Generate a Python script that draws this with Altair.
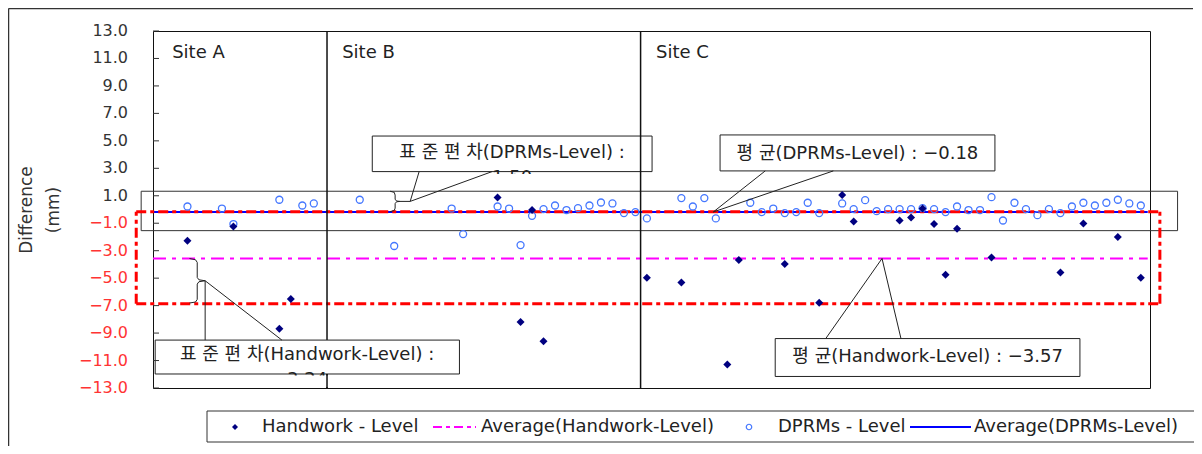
import altair as alt
import pandas as pd

FONT = "DejaVu Sans, Noto Sans CJK KR"
INK = "#222222"

# ---------------- data ----------------
# x = measurement index along the route, y = difference (mm)
dprms_idx = [3, 6, 7, 11, 13, 14,
             18, 21, 26, 27, 30, 31, 32, 33, 34, 35, 36, 37, 38, 39, 40, 41, 42,
             43, 46, 47, 48, 49, 52, 53, 54, 55, 56, 57, 58, 60, 61, 62, 63, 64, 65, 66, 67, 68,
             69, 70, 71, 72, 73, 74, 75, 76, 77, 78, 79, 80, 81, 82, 83, 84, 85, 86]
dprms_val = [0.22, 0.07, -1.06, 0.71, 0.29, 0.44,
             0.71, -2.66, 0.07, -1.79, 0.22, 0.07, -2.59, -0.46, 0.03, 0.29, -0.04, 0.10, 0.29,
             0.51, 0.44, -0.26, -0.19,
             -0.65, 0.83, 0.22, 0.83, -0.65, 0.49, -0.19, 0.07, -0.26, -0.19, 0.49, -0.26, 0.44,
             0.03, 0.68, -0.12, 0.03, 0.03, 0.03, 0.10, 0.03, -0.19, 0.22, -0.04, -0.04, 0.90,
             -0.80, 0.49, 0.03, -0.41, 0.03, -0.26, 0.22, 0.49, 0.29, 0.49, 0.71, 0.44, 0.29]
hand_idx = [3, 7, 11, 12, 30, 32, 33, 34, 43, 46, 50, 51, 55, 58, 60, 61, 65, 66, 67, 68,
            69, 70, 73, 79, 81, 84, 86]
hand_val = [-2.28, -1.24, -8.68, -6.52, 0.87, -8.19, -0.04, -9.60, -4.97, -5.31, -11.29,
            -3.68, -3.97, -6.79, 1.05, -0.87, -0.80, -0.58, 0.07, -1.06, -4.75, -1.40, -3.49,
            -4.58, -1.02, -2.01, -4.97]

hand_mean = -3.57
dprms_mean = -0.18
hand_sd_text = "3.24"
dprms_sd_text = "1.50"

site_names = ["Site A", "Site B", "Site C"]
site_label_x = [1.67, 16.47, 43.79]
site_label_y = [11.4, 11.4, 11.4]
site_div_x = [15.15, 42.45]

y_ticks = list(range(13, -14, -2))
y_tick_labels = ["13.0", "11.0", "9.0", "7.0", "5.0", "3.0", "1.0",
                 "\u22121.0", "\u22123.0", "\u22125.0", "\u22127.0", "\u22129.0",
                 "\u221211.0", "\u221213.0"]
y_title_lines = ["Difference", "(mm)"]

# band and red range box
band_x = [-1.03, 89.2]
band_y = [-1.54, 1.33]
red_x = [-1.46, 87.66]
red_y = [-6.86, -0.17]
mean_line_x = [0, 86.6]

# ---------------- helpers ----------------
xs = alt.Scale(domain=[0, 86.8], nice=False, zero=False)
ys = alt.Scale(domain=[-13, 13], nice=False, zero=False)


def X(f):
    return alt.X(f, type="quantitative", scale=xs, axis=None)


def Y(f):
    return alt.Y(f, type="quantitative", scale=ys, axis=None)


# ---------------- layers ----------------
d_points = pd.DataFrame({"x": dprms_idx, "y": dprms_val})
h_points = pd.DataFrame({"x": hand_idx, "y": hand_val})

band = alt.Chart(pd.DataFrame({"x0": [band_x[0]], "x1": [band_x[1]],
                               "y0": [band_y[0]], "y1": [band_y[1]]})).mark_rect(
    fillOpacity=0, stroke="#333333", strokeWidth=1).encode(
    x=X("x0"), x2=alt.X2("x1"), y=Y("y0"), y2=alt.Y2("y1"))

blue_line = alt.Chart(pd.DataFrame({"x0": [mean_line_x[0]], "x1": [mean_line_x[1]],
                                    "y": [dprms_mean]})).mark_rule(
    color="#0000ff", strokeWidth=2).encode(x=X("x0"), x2=alt.X2("x1"), y=Y("y"))

mag_line = alt.Chart(pd.DataFrame({"x0": [mean_line_x[0]], "x1": [mean_line_x[1]],
                                   "y": [hand_mean]})).mark_rule(
    color="#ff00ff", strokeWidth=2, strokeDash=[13, 6, 4, 6]).encode(
    x=X("x0"), x2=alt.X2("x1"), y=Y("y"))

red_h = alt.Chart(pd.DataFrame({"x0": [red_x[0]] * 2, "x1": [red_x[1]] * 2,
                                "y": red_y})).mark_rule(
    color="#ff0000", strokeWidth=3, strokeDash=[10, 4, 4, 4]).encode(
    x=X("x0"), x2=alt.X2("x1"), y=Y("y"))

red_v = alt.Chart(pd.DataFrame({"x": red_x, "y0": [red_y[0]] * 2,
                                "y1": [red_y[1]] * 2})).mark_rule(
    color="#ff0000", strokeWidth=3, strokeDash=[10, 4, 4, 4]).encode(
    x=X("x"), y=Y("y0"), y2=alt.Y2("y1"))

circles = alt.Chart(d_points).mark_point(
    shape="circle", filled=False, stroke="#4477ff", strokeWidth=1.3, size=49, opacity=1).encode(
    x=X("x"), y=Y("y"))

diamonds = alt.Chart(h_points).mark_point(
    shape="diamond", filled=True, color="#000080", size=64, opacity=1).encode(
    x=X("x"), y=Y("y"))

div_ab = alt.Chart(pd.DataFrame({"x": [site_div_x[0]], "y0": [-13], "y1": [13]})).mark_rule(
    color="#111111", strokeWidth=1.5).encode(x=X("x"), y=Y("y0"), y2=alt.Y2("y1"))

site_text = alt.Chart(pd.DataFrame({"x": site_label_x, "y": site_label_y,
                                    "t": site_names})).mark_text(
    font=FONT, fontSize=18, color=INK, align="left", baseline="middle").encode(
    x=X("x"), y=Y("y"), text="t:N")

# callout boxes (data units)
boxes = pd.DataFrame({
    "x0": [19.09, 49.37, 0.19, 54.17],
    "x1": [43.45, 73.30, 26.68, 80.70],
    "y0": [2.76, 2.81, -11.98, -12.16],
    "y1": [5.35, 5.43, -9.51, -9.40],
})
box_layer = alt.Chart(boxes).mark_rect(
    fill="white", stroke=INK, strokeWidth=1).encode(
    x=X("x0"), x2=alt.X2("x1"), y=Y("y0"), y2=alt.Y2("y1"))

labels = pd.DataFrame({
    "x": [31.26, 61.33, 13.42, 67.44],
    "y": [4.12, 4.05, -10.60, -10.75],
    "t": ["표 준 편 차(DPRMs-Level) :",
          "평 균(DPRMs-Level) : \u22120.18",
          "표 준 편 차(Handwork-Level) :",
          "평 균(Handwork-Level) : \u22123.57"],
})
label_layer = alt.Chart(labels).mark_text(
    font=FONT, fontSize=18, color=INK, align="center", baseline="middle").encode(
    x=X("x"), y=Y("y"), text="t:N")

# second lines of the two SD boxes, mostly cut off by the box edge
cut_text = alt.Chart(pd.DataFrame({"x": [31.26, 13.42], "y": [2.95, -11.75],
                                   "t": [dprms_sd_text, hand_sd_text]})).mark_text(
    font=FONT, fontSize=18, color=INK, align="center", baseline="top").encode(
    x=X("x"), y=Y("y"), text="t:N")

covers = alt.Chart(pd.DataFrame({"x0": [29.0, 11.0], "x1": [33.8, 16.0],
                                 "y0": [1.49, -12.93], "y1": [2.59, -12.09]})).mark_rect(
    fill="white", strokeWidth=0).encode(
    x=X("x0"), x2=alt.X2("x1"), y=Y("y0"), y2=alt.Y2("y1"))

# leader lines and braces (data units)
leaders = []


def path(g, pts):
    for i, (px, py) in enumerate(pts):
        leaders.append({"g": g, "o": i, "x": px, "y": py})


path("sd_d_wedge", [(23.17, 2.76), (22.39, 0.59), (29.52, 2.76)])
path("sd_d_link", [(21.5, 0.59), (22.39, 0.59)])
path("sd_d_brace", [(20.64, 1.33), (21.0, 1.25), (21.08, 1.05), (21.08, 0.75), (21.2, 0.62),
                    (21.5, 0.59), (21.2, 0.56), (21.08, 0.43), (21.08, 0.10), (21.0, -0.08),
                    (20.64, -0.15)])
path("sd_h_wedge", [(4.54, -9.51), (4.54, -5.19), (11.22, -9.51)])
path("sd_h_brace", [(3.18, -3.57), (3.7, -3.66), (3.85, -3.85), (3.85, -4.95), (4.0, -5.12),
                    (4.54, -5.19), (4.0, -5.26), (3.85, -5.43), (3.85, -6.55), (3.7, -6.74),
                    (3.18, -6.81)])
path("mean_h_wedge", [(58.57, -9.40), (63.47, hand_mean), (65.12, -9.40)])
path("mean_d_wedge", [(53.3, 2.81), (48.78, dprms_mean), (59.23, 2.81)])

leader_layer = alt.Chart(pd.DataFrame(leaders)).mark_line(
    color=INK, strokeWidth=1).encode(
    x=X("x"), y=Y("y"), detail="g:N", order="o:Q")

div_ab_low = alt.Chart(pd.DataFrame({"x": [site_div_x[0]], "y0": [-13],
                                     "y1": [-11.98]})).mark_rule(
    color="#111111", strokeWidth=1.5).encode(x=X("x"), y=Y("y0"), y2=alt.Y2("y1"))

div_bc = alt.Chart(pd.DataFrame({"x": [site_div_x[1]], "y0": [-13], "y1": [13]})).mark_rule(
    color="#111111", strokeWidth=1.5).encode(x=X("x"), y=Y("y0"), y2=alt.Y2("y1"))

# y axis drawn by hand: inward ticks, labels (red below zero), two-line title
tick_df = pd.DataFrame({"y": y_ticks, "lab": y_tick_labels})
ticks = alt.Chart(tick_df).mark_rule(color="#333333", strokeWidth=1).encode(
    x=alt.value(0), x2=alt.value(6), y=Y("y"))
tick_labels = alt.Chart(tick_df).mark_text(
    font=FONT, fontSize=16, align="right", baseline="middle").encode(
    x=alt.value(-25), y=Y("y"), text="lab:N",
    color=alt.condition("datum.y < 0", alt.value("#ff3333"), alt.value("#333333")))
y_title = alt.Chart(pd.DataFrame({"t": y_title_lines, "dx": [-126, -99]})).mark_text(
    font=FONT, fontSize=17, angle=270, align="center", baseline="middle",
    color="#333333").encode(
    x=alt.X("dx:Q", scale=None), y=alt.value(179), text="t:N")

# ---------------- legend (layout in pixels) ----------------
LY = 396
legend_box = alt.Chart(pd.DataFrame({"a": [0]})).mark_rect(
    fill="white", stroke="#333333", strokeWidth=1).encode(
    x=alt.value(54), x2=alt.value(1043), y=alt.value(380), y2=alt.value(411))
leg_diamond = alt.Chart(pd.DataFrame({"a": [0]})).mark_point(
    shape="diamond", filled=True, color="#000080", size=36, opacity=1).encode(
    x=alt.value(82), y=alt.value(LY))
leg_circle = alt.Chart(pd.DataFrame({"a": [0]})).mark_point(
    shape="circle", filled=False, stroke="#4477ff", strokeWidth=1.2, size=30,
    opacity=1).encode(x=alt.value(596), y=alt.value(LY))
leg_mag = alt.Chart(pd.DataFrame({"a": [0]})).mark_rule(
    color="#ff00ff", strokeWidth=2, strokeDash=[9, 4, 4, 4]).encode(
    x=alt.value(280), x2=alt.value(323), y=alt.value(LY))
leg_blue = alt.Chart(pd.DataFrame({"a": [0]})).mark_rule(
    color="#0000ff", strokeWidth=2).encode(
    x=alt.value(757), x2=alt.value(818), y=alt.value(LY))

legend_names = ["Handwork - Level", "Average(Handwork-Level)", "DPRMs - Level",
                "Average(DPRMs-Level)"]
legend_text_x = [109, 328, 625, 821]
leg_texts = [
    alt.Chart(pd.DataFrame({"t": [name]})).mark_text(
        font=FONT, fontSize=18, color=INK, align="left", baseline="middle").encode(
        x=alt.value(px), y=alt.value(LY), text="t:N")
    for name, px in zip(legend_names, legend_text_x)
]

# outer frame
frame_left = alt.Chart(pd.DataFrame({"a": [0]})).mark_rule(
    color="#333333", strokeWidth=1.5).encode(
    x=alt.value(-144.5), y=alt.value(-22.5), y2=alt.value(415))
frame_top = alt.Chart(pd.DataFrame({"a": [0]})).mark_rule(
    color="#333333", strokeWidth=1.5).encode(
    x=alt.value(-144.5), x2=alt.value(1040), y=alt.value(-22.5))

layers = [
    band, blue_line, mag_line, red_h, red_v, circles, diamonds,
    div_ab, site_text, box_layer, label_layer, cut_text, covers, leader_layer,
    div_ab_low, div_bc, ticks, tick_labels, y_title,
    legend_box, leg_diamond, leg_circle, leg_mag, leg_blue, *leg_texts,
    frame_left, frame_top,
]

chart = alt.LayerChart(
    layer=layers,
    width=997, height=357,
    padding={"left": 145, "top": 23, "right": 44, "bottom": 58},
    autosize=alt.AutoSizeParams(type="none"),
    background="white",
).configure_view(stroke="#111111", strokeWidth=1)

chart.save("out.html", embed_options={"renderer": "svg", "actions": False})
